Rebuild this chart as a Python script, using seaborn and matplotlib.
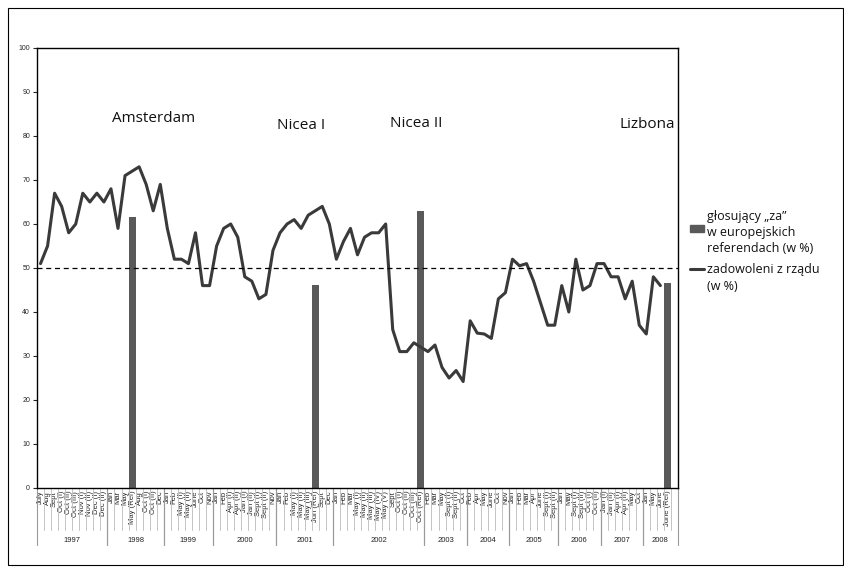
import numpy as np
import pandas as pd
import matplotlib
matplotlib.use("Agg")
import matplotlib.pyplot as plt
from matplotlib.lines import Line2D
from matplotlib.patches import Rectangle
import seaborn as sns

# --- data -----------------------------------------------------------------
years = ["1997", "1998", "1999", "2000", "2001", "2002",
         "2003", "2004", "2005", "2006", "2007", "2008"]

months_1997 = ["July", "Aug", "Sept", "Oct (I)", "Oct (II)", "Oct (III)",
               "Nov (I)", "Nov (II)", "Dec (I)", "Dec (II)"]
months_1998 = ["Jan", "Mar", "May", "May (Ref)", "Aug", "Oct (I)", "Oct (II)", "Dec"]
months_1999 = ["Jan", "Feb", "May (I)", "May (II)", "June", "Oct", "Nov"]
months_2000 = ["Jan", "Feb", "Apr (I)", "Apr (II)", "Jan (I)", "Jan (II)",
               "Sept (I)", "Sept (II)", "Nov"]
months_2001 = ["Jan", "Feb", "May (I)", "May (II)", "May (III)", "Jun (Ref)", "Sept", "Dec"]
months_2002 = ["Jan", "Feb", "Mar", "May (I)", "May (II)", "May (III)", "May (IV)",
               "May (V)", "Sept", "Oct (I)", "Oct (II)", "Oct (III)", "Oct (Ref)"]
months_2003 = ["Feb", "Mar", "May", "Sept (I)", "Sept (II)", "Oct"]
months_2004 = ["Feb", "Apr", "May", "June", "Oct", "Nov"]
months_2005 = ["Jan", "Feb", "Mar", "Apr", "June", "Sept (I)", "Sept (II)"]
months_2006 = ["Jan", "May", "Sept (I)", "Sept (II)", "Oct (I)", "Oct (II)"]
months_2007 = ["Jan (I)", "Jan (II)", "Apr (I)", "Apr (II)", "May", "Oct"]
months_2008 = ["Jan", "May", "June", "June (Ref)", ""]

# satisfaction with the government (%)
sat_1997 = [51, 55, 67, 64, 58, 60, 67, 65, 67, 65]
sat_1998 = [68, 59, 71, 72, 73, 69, 63, 69]
sat_1999 = [59, 52, 52, 51, 58, 46, 46]
sat_2000 = [55, 59, 60, 57, 48, 47, 43, 44, 54]
sat_2001 = [58, 60, 61, 59, 62, 63, 64, 60]
sat_2002 = [52, 56, 59, 53, 57, 58, 58, 60, 36, 31, 31, 33, 32]
sat_2003 = [31, 32.5, 27.4, 25, 26.7, 24.2]
sat_2004 = [38, 35.2, 35, 34, 43, 44.4]
sat_2005 = [52, 50.5, 51, 47, 42, 37, 37]
sat_2006 = [46, 40, 52, 45, 46, 51]
sat_2007 = [51, 48, 48, 43, 47, 37]
sat_2008 = [35, 48, 46, np.nan, np.nan]

# "yes" votes in the EU treaty referendums (%)
ref_labels = ["May (Ref)", "Jun (Ref)", "Oct (Ref)", "June (Ref)"]
ref_years = ["1998", "2001", "2002", "2008"]
ref_yes = [61.7, 46.1, 62.9, 46.6]

treaties = ["Amsterdam", "Nicea I", "Nicea II", "Lizbona"]

# --- assemble --------------------------------------------------------------
month_groups = [months_1997, months_1998, months_1999, months_2000, months_2001,
                months_2002, months_2003, months_2004, months_2005, months_2006,
                months_2007, months_2008]
sat_groups = [sat_1997, sat_1998, sat_1999, sat_2000, sat_2001, sat_2002,
              sat_2003, sat_2004, sat_2005, sat_2006, sat_2007, sat_2008]

rows = []
for yr, ms, vs in zip(years, month_groups, sat_groups):
    for m, v in zip(ms, vs):
        rows.append({"year": yr, "month": m, "satisfied": v})
df = pd.DataFrame(rows)
df["pos"] = np.arange(len(df))
df["yes"] = np.nan
for lab, yr, val in zip(ref_labels, ref_years, ref_yes):
    df.loc[(df["year"] == yr) & (df["month"] == lab), "yes"] = val

# --- figure ---------------------------------------------------------------
sns.set_style("white")
plt.rcParams["font.family"] = ["Liberation Sans", "DejaVu Sans"]

fig = plt.figure(figsize=(8.44, 5.70), dpi=100)
ax = fig.add_axes([37 / 844, 1 - 488 / 570, 641 / 844, 440 / 570])

line_col = "#3a3a3a"
bar_col = "#595959"

sns.barplot(data=df, x="pos", y="yes", native_scale=True, width=1.0,
            color=bar_col, saturation=1, errorbar=None, linewidth=0, ax=ax,
            zorder=2)
sns.lineplot(data=df, x="pos", y="satisfied", color=line_col, linewidth=2.2,
             ax=ax, zorder=3)
ax.axhline(50, color="black", linewidth=0.9, linestyle=(0, (4, 3)), zorder=4)

n = len(df)
ax.set_xlim(-0.5, n - 0.5)
ax.set_ylim(0, 100)
ax.set_yticks(np.arange(0, 101, 10))
ax.tick_params(axis="y", labelsize=5, length=3, width=0.8, direction="out",
               left=True, pad=2)
ax.set_xticks(df["pos"])
ax.set_xticklabels(df["month"], rotation=90, fontsize=5.5)
ax.tick_params(axis="x", length=0, pad=2)
ax.set_xlabel("")
ax.set_ylabel("")
for s in ax.spines.values():
    s.set_visible(True)
    s.set_color("black")
    s.set_linewidth(1.0)

# category separators and year groups under the axis
tr = ax.get_xaxis_transform()
for i in range(n + 1):
    ax.plot([i - 0.5, i - 0.5], [0, -0.095], transform=tr, clip_on=False,
            color="#c4c4c4", linewidth=0.7)
start = 0
for yr, ms in zip(years, month_groups):
    end = start + len(ms)
    for b in (start, end):
        ax.plot([b - 0.5, b - 0.5], [0, -0.13], transform=tr, clip_on=False,
                color="#9a9a9a", linewidth=0.8)
    ax.text((start + end) / 2 - 0.5, -0.119, yr, transform=tr, ha="center",
            va="center", fontsize=5.5, color="#222222")
    start = end

# treaty names
ann_x = [16.0, 37.0, 53.3, 86.1]
ann_y = [84.0, 82.3, 82.8, 82.5]
for name, x, y in zip(treaties, ann_x, ann_y):
    ax.text(x, y, name, ha="center", va="center", fontsize=11,
            family=["Open Sans", "DejaVu Sans"], color="#111111")

# legend
fig.patches.append(Rectangle((690 / 844, 1 - 232 / 570), 14 / 844, 7 / 570,
                             transform=fig.transFigure, color=bar_col))
fig.lines.append(Line2D([690 / 844, 704 / 844], [1 - 269 / 570, 1 - 269 / 570],
                        transform=fig.transFigure, color=line_col, linewidth=2.2))
leg_lines = [("głosujący „za”", 216), ("w europejskich", 233),
             ("referendach (w %)", 249), ("zadowoleni z rządu", 270),
             ("(w %)", 286)]
for txt, yy in leg_lines:
    fig.text(707 / 844, 1 - yy / 570, txt, ha="left", va="center", fontsize=9,
             family=["Open Sans", "DejaVu Sans"], color="#111111")

# outer frame
fig.patches.append(Rectangle((8 / 844, 5 / 570), 835 / 844, 557 / 570,
                             transform=fig.transFigure, fill=False,
                             edgecolor="black", linewidth=0.8))

fig.savefig("out.png", dpi=100)
